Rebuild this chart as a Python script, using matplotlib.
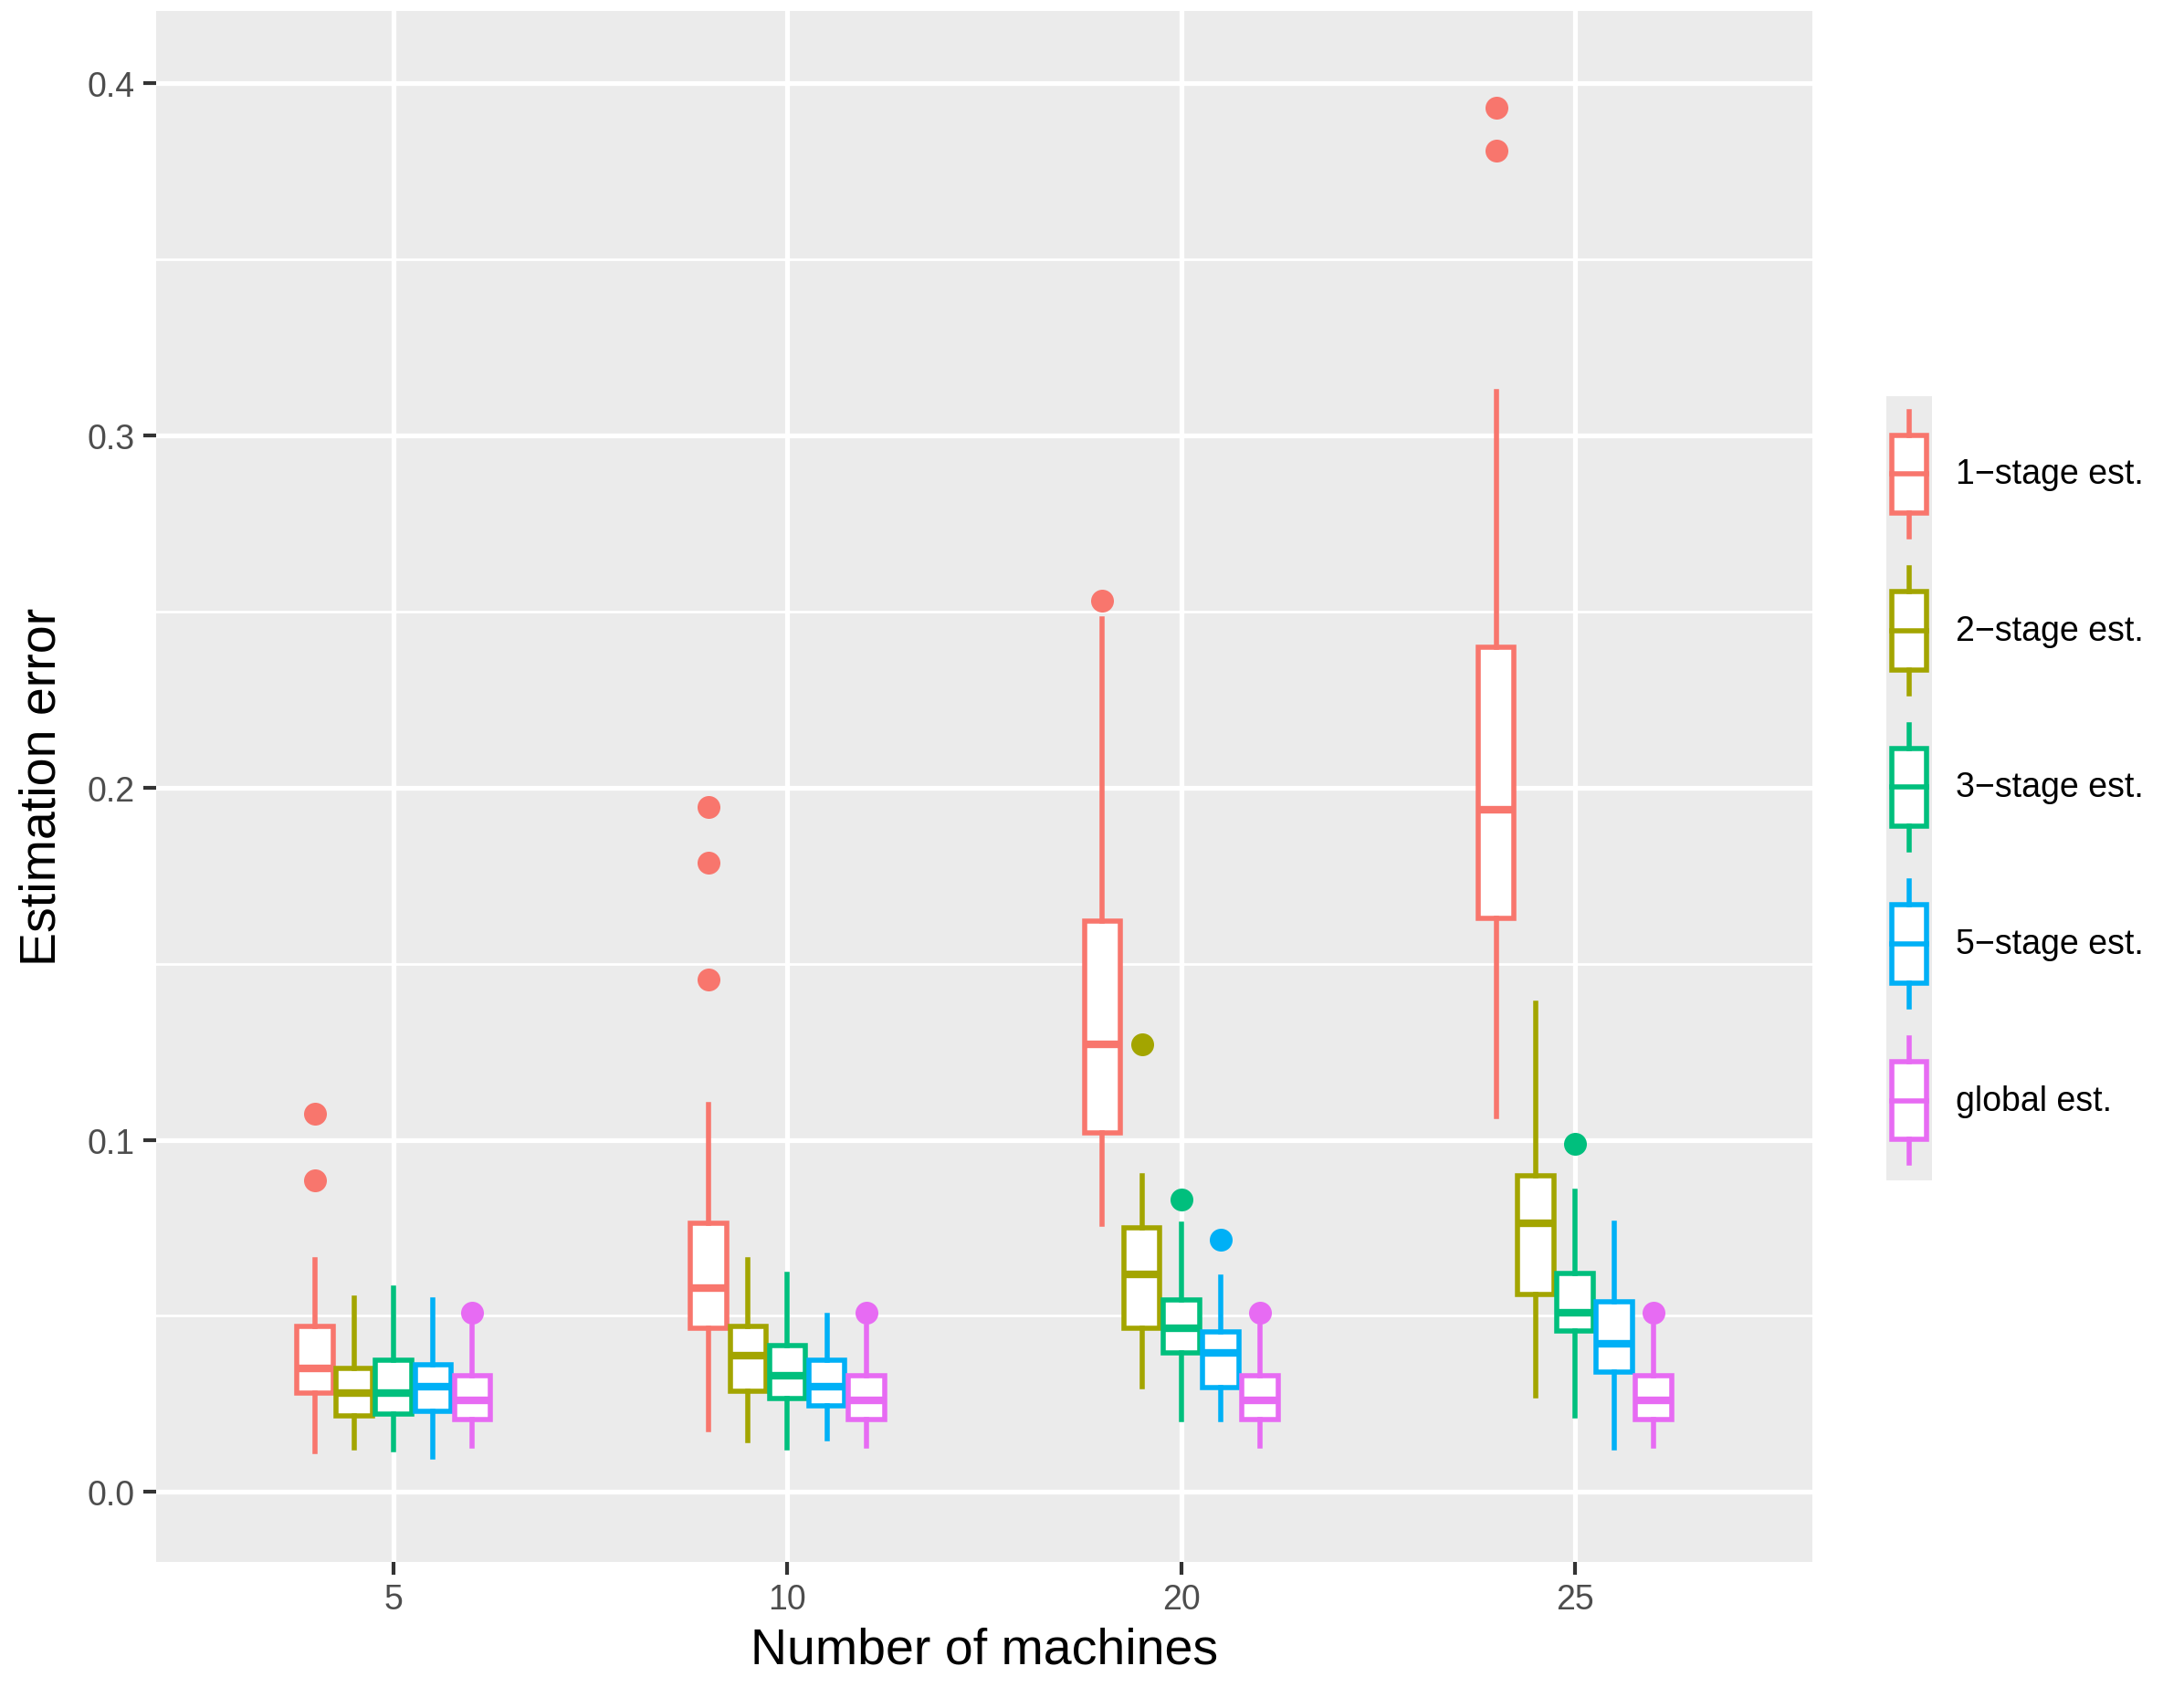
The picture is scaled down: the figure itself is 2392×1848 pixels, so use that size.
import matplotlib
matplotlib.use("Agg")
import matplotlib.pyplot as plt
from matplotlib.patches import Rectangle

plt.rcParams["font.family"] = "Liberation Sans"

groups = ["5", "10", "20", "25"]
series = ["1\u2212stage est.", "2\u2212stage est.", "3\u2212stage est.", "5\u2212stage est.", "global est."]
colors = ["#F8766D", "#A3A500", "#00BF7D", "#00B0F6", "#E76BF3"]

# (whislo, q1, med, q3, whishi) per group, per series
stage1 = [(0.0115, 0.028, 0.035, 0.047, 0.066), (0.0178, 0.0466, 0.058, 0.0763, 0.110),
          (0.076, 0.102, 0.127, 0.162, 0.248), (0.1067, 0.163, 0.1937, 0.240, 0.3126)]
stage2 = [(0.0126, 0.0217, 0.028, 0.035, 0.055), (0.0146, 0.0285, 0.0387, 0.047, 0.066),
          (0.030, 0.0466, 0.0617, 0.075, 0.0897), (0.0273, 0.056, 0.0763, 0.0897, 0.1387)]
stage3 = [(0.012, 0.022, 0.028, 0.0375, 0.058), (0.0126, 0.0265, 0.033, 0.0415, 0.0617),
          (0.0205, 0.0395, 0.0466, 0.0545, 0.076), (0.0217, 0.0458, 0.051, 0.062, 0.0854)]
stage5 = [(0.010, 0.023, 0.030, 0.036, 0.0545), (0.015, 0.0245, 0.030, 0.0375, 0.050),
          (0.0205, 0.0296, 0.0395, 0.0455, 0.061), (0.0126, 0.034, 0.042, 0.054, 0.0763)]
glob = [(0.013, 0.0205, 0.026, 0.033, 0.047)] * 4

out1 = [[0.1075, 0.0885], [0.1945, 0.1787, 0.1455], [0.253], [0.393, 0.381]]
out2 = [[], [], [0.127], []]
out3 = [[], [], [0.083], [0.0988]]
out5 = [[], [], [0.0715], []]
outg = [[0.051], [0.051], [0.051], [0.051]]

stats = [stage1, stage2, stage3, stage5, glob]
fliers = [out1, out2, out3, out5, outg]

fig = plt.figure(figsize=(11.96, 9.245), dpi=200)
ax = fig.add_axes([0.0714, 0.0743, 0.7586, 0.9187])
ax.set_facecolor("#EBEBEB")
for s in ax.spines.values():
    s.set_visible(False)

offs = [-0.2, -0.1, 0.0, 0.1, 0.2]
for si, (st, fl, c) in enumerate(zip(stats, fliers, colors)):
    bstats = []
    pos = []
    for gi in range(4):
        lo, q1, med, q3, hi = st[gi]
        bstats.append(dict(whislo=lo, q1=q1, med=med, q3=q3, whishi=hi, fliers=fl[gi]))
        pos.append(gi + 1 + offs[si])
    ax.bxp(bstats, positions=pos, widths=0.092, showcaps=False, patch_artist=True,
           boxprops=dict(facecolor="white", edgecolor=c, linewidth=2.0),
           medianprops=dict(color=c, linewidth=3.0),
           whiskerprops=dict(color=c, linewidth=2.0),
           flierprops=dict(marker="o", markerfacecolor=c, markeredgecolor=c, markersize=8),
           manage_ticks=False, zorder=3)

ax.set_xlim(0.396, 4.604)
ax.set_ylim(-0.0198, 0.4206)
ax.set_xticks([1, 2, 3, 4])
ax.set_xticklabels(groups)
ax.set_yticks([0.0, 0.1, 0.2, 0.3, 0.4])
ax.set_yticks([0.05, 0.15, 0.25, 0.35], minor=True)
ax.set_xticks([], minor=True)
ax.grid(True, which="major", color="white", linewidth=1.9, zorder=0)
ax.grid(True, which="minor", axis="y", color="white", linewidth=1.0, zorder=0)
ax.set_axisbelow(True)
ax.tick_params(axis="both", which="major", labelsize=13.5, colors="#333333", length=5, width=1.5, labelcolor="#4D4D4D")
ax.tick_params(axis="y", which="minor", length=0)
ax.set_xlabel("Number of machines", fontsize=20, labelpad=4)
ax.set_ylabel("Estimation error", fontsize=20, labelpad=8)

# legend drawn manually (ggplot style keys)
W, H = 1568.0, 1212.0
lx0, lx1 = 1354 / W, 1387 / W
fig.patches.append(Rectangle((lx0, 1 - 848 / H), lx1 - lx0, (848 - 285) / H,
                             transform=fig.transFigure, facecolor="#EBEBEB", edgecolor="none"))
cx = (lx0 + lx1) / 2
for i, (lab, c) in enumerate(zip(series, colors)):
    yc = 341 + i * 112.5
    kw = dict(color=c, linewidth=2.0, transform=fig.transFigure)
    fig.lines.append(plt.Line2D([cx, cx], [1 - (yc - 45) / H, 1 - (yc - 28) / H], **kw))
    fig.lines.append(plt.Line2D([cx, cx], [1 - (yc + 28) / H, 1 - (yc + 45) / H], **kw))
    fig.patches.append(Rectangle((1358 / W, 1 - (yc + 28) / H), 25 / W, 56 / H,
                                 transform=fig.transFigure, facecolor="white", edgecolor=c, linewidth=2.0))
    fig.lines.append(plt.Line2D([1358 / W, 1383 / W], [1 - yc / H, 1 - yc / H], **kw))
    fig.text(1404 / W, 1 - yc / H, lab, fontsize=13.5, va="center", ha="left")

fig.savefig("out.png", dpi=200)
